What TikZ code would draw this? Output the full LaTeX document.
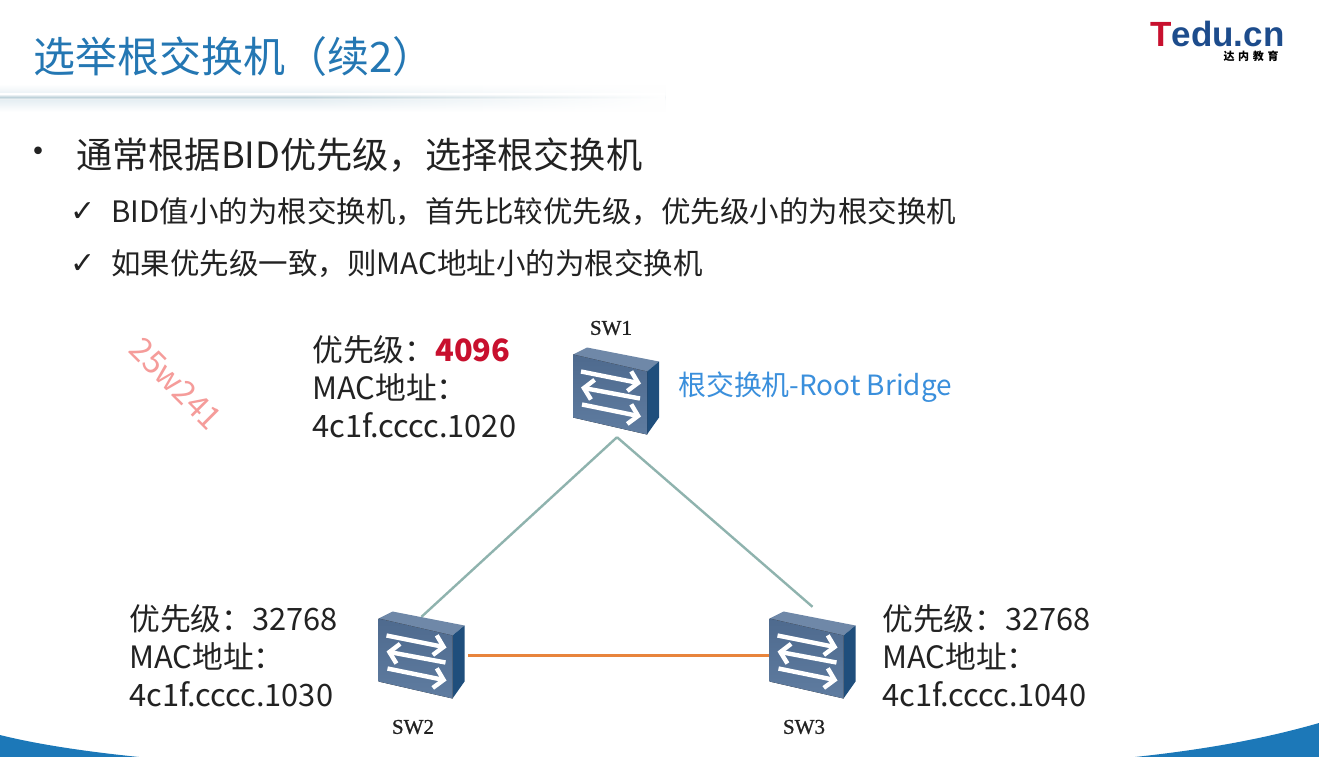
\documentclass[tikz,border=0pt]{standalone}
\usepackage{fontspec}
\setmainfont{Noto Sans CJK SC}
\newfontfamily\tickfont{DejaVu Sans}
\newfontfamily\swfont[FakeBold=1]{Liberation Serif}
\newfontfamily\logofont{Liberation Sans}
\usetikzlibrary{arrows.meta,fadings,shadings}
\definecolor{titleblue}{HTML}{2477B3}
\definecolor{rootblue}{HTML}{3A8FDC}
\definecolor{linegreen}{HTML}{8FB3AE}
\definecolor{lineorange}{HTML}{E8843C}
\definecolor{prired}{HTML}{C8102E}
\definecolor{txt}{HTML}{222222}
\definecolor{barblue}{HTML}{1C78B8}
\definecolor{logonavy}{HTML}{1D4C8C}
\definecolor{rulecol}{HTML}{E2ECF1}
\definecolor{rulecore}{HTML}{BFD2DA}
\definecolor{wmred}{HTML}{F59C9A}
\definecolor{swtop}{HTML}{6F88A8}
\definecolor{swfront}{HTML}{4E6A8E}
\definecolor{swfrontb}{HTML}{5F7CA0}
\definecolor{swside}{HTML}{1F4E7C}
\tikzfading[name=fadeleftright, left color=transparent!100, right color=transparent!0]
\tikzset{
  x=1pt,y=-1pt,
  info/.style={anchor=north west,align=left,inner sep=0pt,text=txt,font=\fontsize{30.8}{38}\selectfont},
  swlabel/.style={text=txt,inner sep=0pt,font=\swfont\fontsize{21}{24}\selectfont},
  swbox/.style={minimum width=87pt,minimum height=87pt,inner sep=0pt,rectangle},
  swarrow/.style={white,line width=4.4pt,-{Straight Barb[length=9pt,width=20pt,line width=4.4pt]}},
  link/.style={line width=2.4pt},
}
\newcommand{\swdraw}[1]{%
  \begin{scope}[shift={(#1)}]
    \fill[swtop] (-43,-37) -- (-29,-44) -- (43,-30) -- (31,-20) -- cycle;
    \fill[swside] (31,-20) -- (43,-30) -- (43,26) -- (31,43) -- cycle;
    \fill[top color=swfront,bottom color=swfrontb] (-43,-37) -- (31,-20) -- (31,43) -- (-43,26) -- cycle;
    \draw[swarrow] (-35,-20) -- (25,-8);
    \draw[swarrow] (24,7) -- (-35,-4);
    \draw[swarrow] (-34,13) -- (25,25);
  \end{scope}}
\begin{document}
\begin{tikzpicture}
\useasboundingbox (0,0) rectangle (1319,757);
\fill[white] (0,0) rectangle (1319,757);
% title rule
\shade[top color=white,bottom color=white,middle color=rulecol] (0,84) rectangle (665,112);
\shade[top color=white,bottom color=white,middle color=rulecore] (0,94) rectangle (665,100);
\fill[white,path fading=fadeleftright] (300,84) rectangle (665,112);
% bottom bars
\fill[barblue] (0,735) .. controls (40,745) and (90,752) .. (139,757) -- (0,757) -- cycle;
\fill[barblue] (1319,723) .. controls (1260,740) and (1200,750) .. (1135,757) -- (1319,757) -- cycle;
% title
\node[anchor=west,inner sep=0pt,text=titleblue,font=\fontsize{42}{46}\selectfont] (title) at (33,57) {选举根交换机（续2）};
% logo
\node[anchor=west,inner sep=0pt,text=logonavy,font=\logofont\bfseries\fontsize{35}{38}\selectfont] (logo) at (1150,34) {\textcolor{prired}{T}edu.cn};
\node[anchor=center,inner sep=0pt,text=black,font=\bfseries\fontsize{11}{12}\selectfont] (logosub) at (1251,56.5) {达\,\,内\,\,教\,\,育};
% bullets
\node[anchor=center,inner sep=0pt,text=txt,font=\fontsize{36}{38}\selectfont] (b0) at (38,156) {•};
\node[anchor=west,inner sep=0pt,text=txt,font=\fontsize{36.2}{42}\selectfont] (b1) at (76,155) {通常根据BID优先级，选择根交换机};
\node[anchor=center,inner sep=0pt,text=txt,font=\tickfont\fontsize{30}{34}\selectfont] (c1) at (83,212) {✓};
\node[anchor=west,inner sep=0pt,text=txt,font=\fontsize{29.5}{34}\selectfont] (b2) at (111,212) {BID值小的为根交换机，首先比较优先级，优先级小的为根交换机};
\node[anchor=center,inner sep=0pt,text=txt,font=\tickfont\fontsize{30}{34}\selectfont] (c2) at (83,264) {✓};
\node[anchor=west,inner sep=0pt,text=txt,font=\fontsize{29.5}{34}\selectfont] (b3) at (111,264) {如果优先级一致，则MAC地址小的为根交换机};
% watermark
\node[rotate=-45,inner sep=0pt,text=wmred,font=\fontsize{32}{34}\selectfont] (wm) at (176,384) {25w241};
% switches
\node[swbox] (sw1) at (616,391.5) {};
\node[swbox] (sw2) at (421.5,655.5) {};
\node[swbox] (sw3) at (812.5,655.5) {};
% links
\draw[link,linegreen] (sw1.south) ++(1,2) coordinate (apex) -- ([yshift=-5pt]sw2.north);
\draw[link,linegreen] (apex) -- ([yshift=5pt]sw3.north);
\draw[link,lineorange] ([xshift=3pt]sw2.east) -- (sw3.west);
\swdraw{sw1.center}
\swdraw{sw2.center}
\swdraw{sw3.center}
\node[swlabel] (l1) at (611,328) {SW1};
\node[swlabel] (l2) at (413,727) {SW2};
\node[swlabel] (l3) at (804,727) {SW3};
% info
\node[info] (i1) at (312,335) {优先级：\textcolor{prired}{\bfseries 4096}\\MAC地址：\\4c1f.cccc.1020};
\node[info] (i2) at (129,604) {优先级：32768\\MAC地址：\\4c1f.cccc.1030};
\node[info] (i3) at (882,604) {优先级：32768\\MAC地址：\\4c1f.cccc.1040};
\node[anchor=west,inner sep=0pt,text=rootblue,font=\fontsize{27.9}{30}\selectfont] (root) at (678,387) {根交换机-Root Bridge};
\end{tikzpicture}
\end{document}
